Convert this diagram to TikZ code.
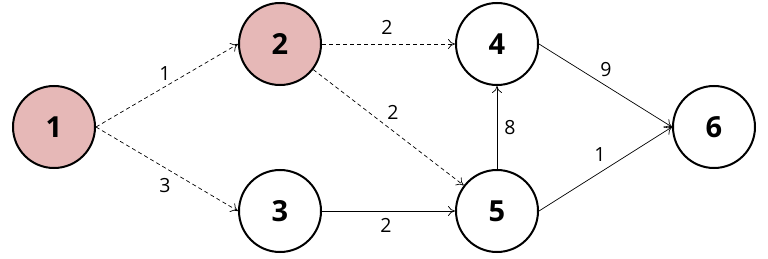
\documentclass[tikz,border=0pt]{standalone}
\usepackage{fontspec}
\setmainfont{Open Sans}
\usetikzlibrary{arrows.meta}
\definecolor{pinkfill}{HTML}{E6B8B7}
\begin{document}
\begin{tikzpicture}[x=1pt,y=-1pt,
  vtx/.style={circle,draw=black,line width=2pt,minimum size=82pt,inner sep=0pt,font=\fontsize{29}{32}\selectfont\bfseries},
  hot/.style={vtx,fill=pinkfill},
  edge/.style={-{To[length=7pt,width=10pt]},line width=0.7pt},
  dedge/.style={edge,dash pattern=on 4pt off 3pt},
  lab/.style={font=\fontsize{19.5}{21}\selectfont,inner sep=1pt}]
\useasboundingbox (0,0) rectangle (768,259);
\node[hot] (n1) at (54,127) {1};
\node[hot] (n2) at (280,44) {2};
\node[vtx] (n3) at (280,211) {3};
\node[vtx] (n4) at (497,44) {4};
\node[vtx] (n5) at (497,211) {5};
\node[vtx] (n6) at (714,127) {6};
\draw[dedge] (n1.east) -- (n2.west);
\draw[dedge] (n1.east) -- (n3.west);
\draw[dedge] (n2) -- (n4);
\draw[dedge] (n2) -- (n5);
\draw[edge] (n3) -- (n5);
\draw[edge] (n5) -- (n4);
\draw[edge] (n4.east) -- (n6.west);
\draw[edge] (n5.east) -- (n6.west);
\node[lab] (l12) at (165,74) {1};
\node[lab] (l13) at (165,186) {3};
\node[lab] (l24) at (387,27) {2};
\node[lab] (l25) at (393,112) {2};
\node[lab] (l54) at (510,128) {8};
\node[lab] (l46) at (606,70) {9};
\node[lab] (l56) at (600,155) {1};
\node[lab] (l35) at (386,225) {2};
\end{tikzpicture}
\end{document}
